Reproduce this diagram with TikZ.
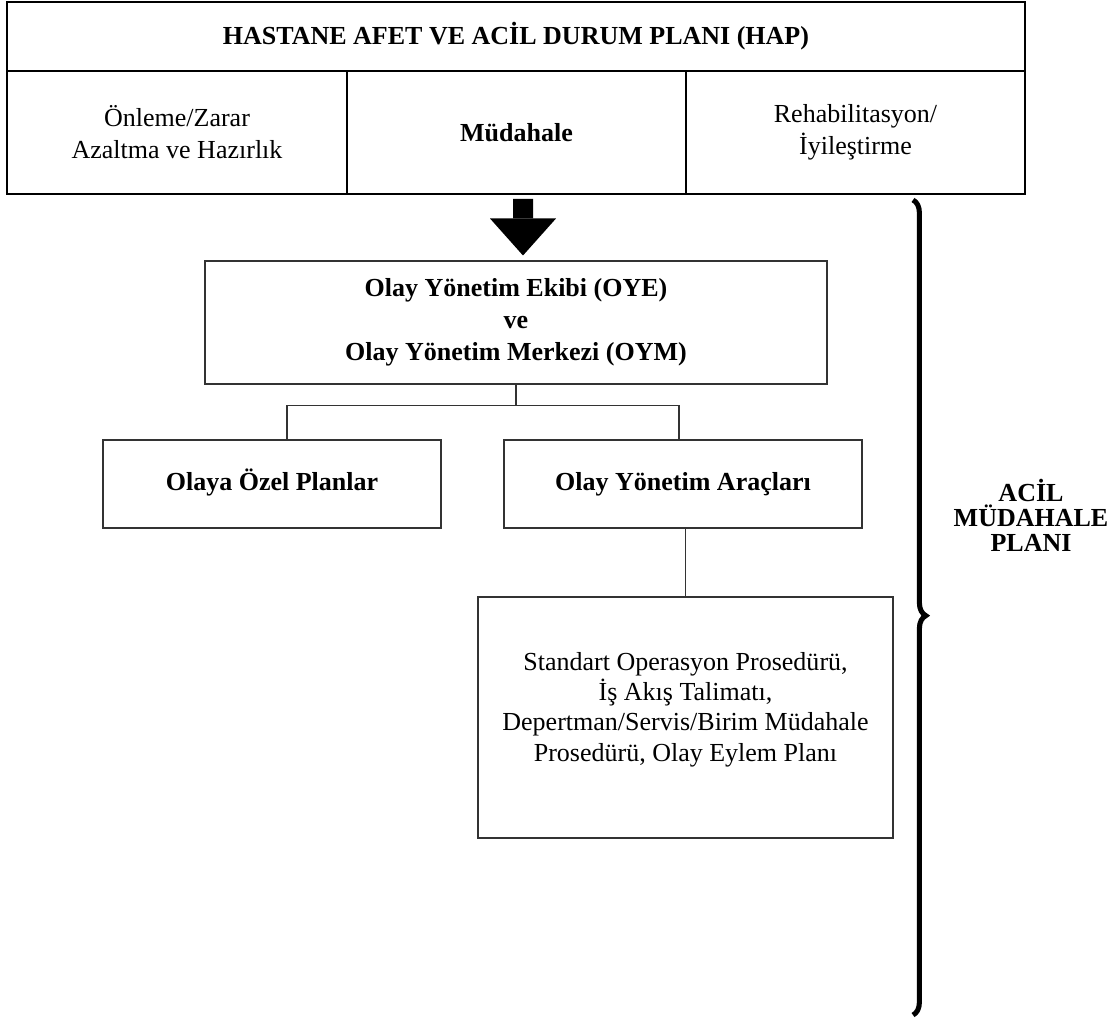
\documentclass[tikz,border=0pt]{standalone}
\usepackage{fontspec}
\setmainfont{Liberation Serif}
\usetikzlibrary{arrows.meta,decorations.pathreplacing}

\begin{document}
\begin{tikzpicture}[
    txt/.style={font=\fontsize{18.5}{22.8}\selectfont},
    bold/.style={font=\fontsize{18.5}{22.8}\selectfont\bfseries},
    hapcell/.style={draw=black, line width=1.4pt, inner sep=0pt, align=center},
    planbox/.style={draw=black!80, line width=0.75pt, inner sep=0pt, align=center},
    oneline/.style={text height=1.2em, text depth=0.25em},
    conn/.style={draw=black!80, line width=0.75pt},
    bigarrow/.style={line width=0.5cm, -{Triangle[width=1.65cm, length=0.925cm, line width=0pt]}},
    bigbrace/.style={line width=3.6pt, decorate, decoration={brace, amplitude=0.32cm, aspect=0.51}}
]
    \useasboundingbox (0,0) rectangle (27.875,-25.475);
    %\draw[help lines] (0,-26) grid (28,0);
    \node[hapcell, bold, minimum width=25.45cm, minimum height=1.725cm] (hap) at (12.9,-0.9125) {HASTANE AFET VE ACİL DURUM PLANI (HAP)};
    \node[hapcell, txt, minimum width=8.5cm, minimum height=3.075cm] (onleme) at (4.425,-3.3125) {Önleme/Zarar\\Azaltma ve Hazırlık};
    \node[hapcell, bold, minimum width=8.475cm, minimum height=3.075cm] (mudahale) at (12.9125,-3.3125) {Müdahale};
    \node[hapcell, txt, minimum width=8.475cm, minimum height=3.075cm] (rehab) at (21.3875,-3.3125) {Rehabilitasyon/\\İyileştirme};

    \node[planbox, bold, minimum width=15.55cm, minimum height=3.075cm] (oye) at (12.9,-8.0625) {Olay Yönetim Ekibi (OYE)\\ve\\Olay Yönetim Merkezi (OYM)};
    \node[planbox, bold, oneline, minimum width=8.45cm, minimum height=2.2cm] (olaya) at (6.8,-12.1) {Olaya Özel Planlar};
    \node[planbox, bold, oneline, minimum width=8.95cm, minimum height=2.2cm] (arac) at (17.075,-12.1) {Olay Yönetim Araçları};
    \node[planbox, minimum width=10.375cm, minimum height=6.025cm] (sop) at (17.1375,-17.9375) {};
    \node[align=center, font=\fontsize{18.5}{21.5}\selectfont] (soptext) at ([yshift=0.2cm]sop.center) {Standart Operasyon Prosedürü,\\İş Akış Talimatı,\\Depertman/Servis/Birim Müdahale\\Prosedürü, Olay Eylem Planı};

    \draw[bigarrow] ([xshift=0.1625cm, yshift=-0.1cm]mudahale.south) -- ([xshift=0.175cm, yshift=0.125cm]oye.north);
    \draw[conn] (oye.south) -- ++(0,-0.525) coordinate (bus);
    \draw[conn] ([xshift=0.375cm]olaya.north) |- (bus) -| ([xshift=-0.1cm]arac.north);
    \draw[conn] (sop.north) -- (sop.north |- arac.south);

    \draw[bigbrace] (22.825,-5.0) -- (22.825,-25.375);
    \node[align=center, font=\fontsize{18.5}{17.8}\selectfont\bfseries] (amp) at (25.775,-12.875) {ACİL\\MÜDAHALE\\PLANI};
\end{tikzpicture}
\end{document}
